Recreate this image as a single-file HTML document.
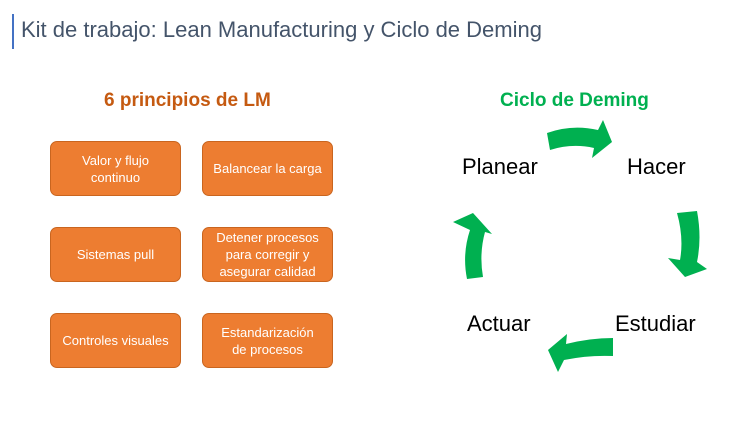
<!DOCTYPE html>
<html><head><meta charset="utf-8"><style>
body{margin:0;width:747px;height:421px;background:#fff;overflow:hidden;position:relative;font-family:"Liberation Sans",sans-serif}
.t{position:absolute;white-space:nowrap}
.box{position:absolute;width:131px;height:55px;background:#ed7d31;border:1px solid #c9651f;border-radius:7px;color:#fff;font-size:13px;display:flex;align-items:center;justify-content:center;text-align:center;line-height:17px;box-sizing:border-box}
.lab{position:absolute;font-size:22px;color:#000;white-space:nowrap}
</style></head><body>
<div style="position:absolute;left:12px;top:14px;width:2px;height:35px;background:#4472c4"></div>
<div class="t" style="left:21px;top:17px;font-size:22px;color:#44546a">Kit de trabajo: Lean Manufacturing y Ciclo de Deming</div>
<div class="t" style="left:104px;top:90px;font-size:19px;font-weight:bold;color:#c55a11">6 principios de LM</div>
<div class="t" style="left:500px;top:90px;font-size:19px;font-weight:bold;color:#00b050">Ciclo de Deming</div>
<div class="box" style="left:50px;top:141px">Valor y flujo<br>continuo</div>
<div class="box" style="left:202px;top:141px">Balancear la carga</div>
<div class="box" style="left:50px;top:227px">Sistemas pull</div>
<div class="box" style="left:202px;top:227px">Detener procesos<br>para corregir y<br>asegurar calidad</div>
<div class="box" style="left:50px;top:313px">Controles visuales</div>
<div class="box" style="left:202px;top:313px">Estandarización<br>de procesos</div>
<svg width="747" height="421" style="position:absolute;left:0;top:0">
<path fill="#00b050" d="M547,133 Q572,124 598,130 L603,120 L612,142 L592,158 L594,148 Q572,143 550,150 Z"/>
<path fill="#00b050" d="M677,213 L697,211 Q702,238 697,262 L707,269 L685,277 L668,258 L680,260 Q684,238 677,213 Z"/>
<path fill="#00b050" d="M613,338 L613,356 Q588,355 564,360 L558,372 L548,350 L567,334 L566,344 Q590,338 613,338 Z"/>
<path fill="#00b050" d="M467,279 Q462,254 470,230 L453,222 L473,213 L492,234 L485,232 Q479,254 483,277 Z"/>
</svg>
<div class="lab" style="left:462px;top:154px">Planear</div>
<div class="lab" style="left:627px;top:154px">Hacer</div>
<div class="lab" style="left:467px;top:311px">Actuar</div>
<div class="lab" style="left:615px;top:311px">Estudiar</div>
</body></html>
